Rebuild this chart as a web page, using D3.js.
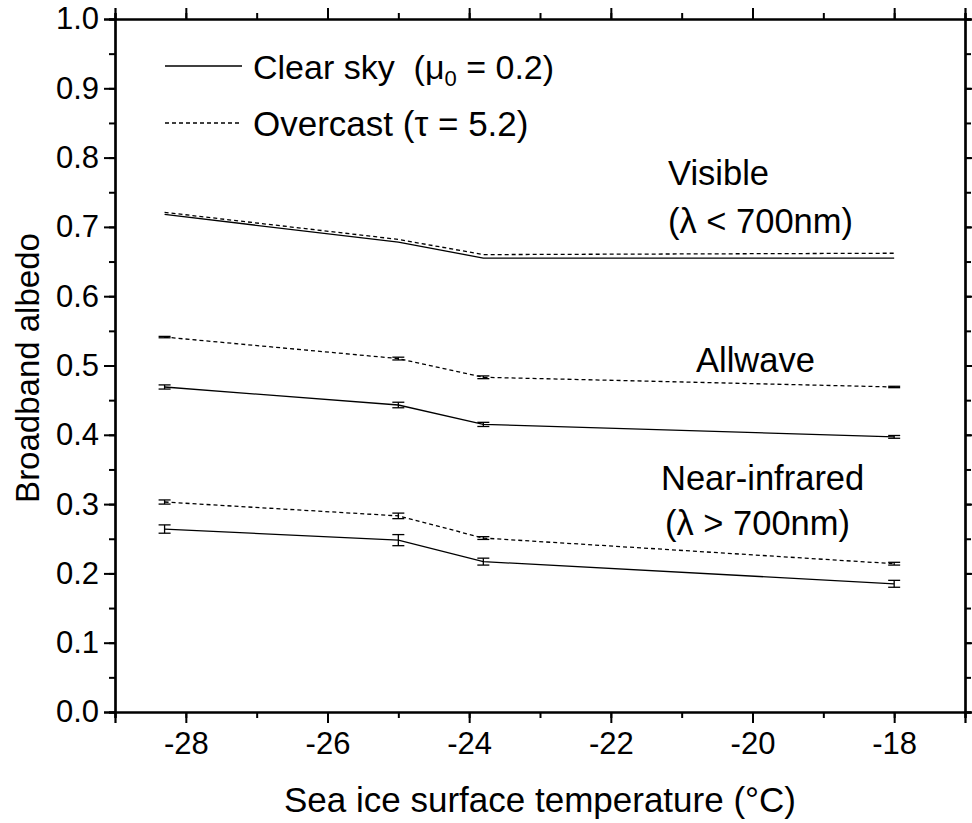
<!DOCTYPE html>
<html>
<head>
<meta charset="utf-8">
<script src="https://cdn.jsdelivr.net/npm/d3@7"></script>
<style>
body{margin:0;background:#fff;}
svg{font-family:"Liberation Sans",Arial,sans-serif;}
text{white-space:pre;}
</style>
</head>
<body>
<svg id="graph"></svg>
<script>
// temperatures (deg C)
var temps = [-28.3, -25, -23.8, -18];

// albedo values + error half-widths (0 = no visible bar)
var visClear = [0.718, 0.678, 0.655, 0.655];
var visClearErr = [0, 0, 0, 0];
var visOver = [0.721, 0.682, 0.660, 0.662];
var visOverErr = [0, 0, 0, 0];
var allClear = [0.469, 0.443, 0.415, 0.397];
var allClearErr = [0.003, 0.004, 0.003, 0.002];
var allOver = [0.541, 0.510, 0.483, 0.469];
var allOverErr = [0.001, 0.002, 0.002, 0.001];
var nirClear = [0.264, 0.248, 0.217, 0.185];
var nirClearErr = [0.006, 0.008, 0.005, 0.005];
var nirOver = [0.303, 0.283, 0.251, 0.214];
var nirOverErr = [0.003, 0.004, 0.002, 0.002];

var xTicks = [-28, -26, -24, -22, -20, -18];
var yTicks = [0, 0.1, 0.2, 0.3, 0.4, 0.5, 0.6, 0.7, 0.8, 0.9, 1.0];

var series = [
  {vals: visClear, err: visClearErr, dash: null},
  {vals: visOver, err: visOverErr, dash: "4,3"},
  {vals: allClear, err: allClearErr, dash: null},
  {vals: allOver, err: allOverErr, dash: "4,3"},
  {vals: nirClear, err: nirClearErr, dash: null},
  {vals: nirOver, err: nirOverErr, dash: "4,3"}
];

var screen = {width: 972, height: 823};
var svg = d3.select("#graph").attr("width", screen.width).attr("height", screen.height);

var xScale = d3.scaleLinear().domain([-29, -17]).range([115, 965]);
var yScale = d3.scaleLinear().domain([0, 1]).range([712, 19]);

var minorX = d3.range(-29, -16.5, 1);
var minorY = d3.range(0, 1.001, 0.05);

function styleAxis(g){
  g.select(".domain").attr("stroke", "#000").attr("stroke-width", 2.2);
  g.selectAll(".tick line").attr("stroke", "#000").attr("stroke-width", 2);
}

// minor ticks first
svg.append("g").attr("transform", "translate(0,712)")
  .call(d3.axisBottom(xScale).tickValues(minorX).tickSize(6).tickFormat(""))
  .call(styleAxis);
svg.append("g").attr("transform", "translate(0,19)")
  .call(d3.axisTop(xScale).tickValues(minorX).tickSize(6).tickFormat(""))
  .call(styleAxis);
svg.append("g").attr("transform", "translate(115,0)")
  .call(d3.axisLeft(yScale).tickValues(minorY).tickSize(6).tickFormat(""))
  .call(styleAxis);
svg.append("g").attr("transform", "translate(965,0)")
  .call(d3.axisRight(yScale).tickValues(minorY).tickSize(6).tickFormat(""))
  .call(styleAxis);

// major ticks
var xAxis = svg.append("g").attr("transform", "translate(0,712)")
  .call(d3.axisBottom(xScale).tickValues(xTicks).tickSize(11).tickPadding(9)
    .tickFormat(function(d){ return String(d); }))
  .call(styleAxis);
xAxis.selectAll("text").attr("font-size", 31).attr("fill", "#000")
  .attr("font-family", "Liberation Sans, Arial, sans-serif");
svg.append("g").attr("transform", "translate(0,19)")
  .call(d3.axisTop(xScale).tickValues(xTicks).tickSize(11).tickFormat(""))
  .call(styleAxis);
var yAxis = svg.append("g").attr("transform", "translate(115,0)")
  .call(d3.axisLeft(yScale).tickValues(yTicks).tickSize(11).tickPadding(5).tickFormat(d3.format(".1f")))
  .call(styleAxis);
yAxis.selectAll("text").attr("font-size", 31).attr("fill", "#000")
  .attr("font-family", "Liberation Sans, Arial, sans-serif");
svg.append("g").attr("transform", "translate(965,0)")
  .call(d3.axisRight(yScale).tickValues(yTicks).tickSize(11).tickFormat(""))
  .call(styleAxis);

// lines + error bars
var line = d3.line()
  .x(function(d, i){ return xScale(temps[i]); })
  .y(function(d){ return yScale(d); });

series.forEach(function(s){
  svg.append("path")
    .attr("d", line(s.vals))
    .attr("fill", "none")
    .attr("stroke", "#000")
    .attr("stroke-width", 1.3)
    .attr("stroke-dasharray", s.dash);
  var eb = svg.append("g").attr("stroke", "#000").attr("stroke-width", 1.3);
  s.vals.forEach(function(v, i){
    if (!s.err[i]) return;
    var x = xScale(temps[i]);
    var y1 = yScale(v - s.err[i]), y2 = yScale(v + s.err[i]);
    eb.append("line").attr("x1", x).attr("x2", x).attr("y1", y1).attr("y2", y2);
    eb.append("line").attr("x1", x - 6).attr("x2", x + 6).attr("y1", y1).attr("y2", y1);
    eb.append("line").attr("x1", x - 6).attr("x2", x + 6).attr("y1", y2).attr("y2", y2);
  });
});

// axis titles
svg.append("text")
  .attr("x", 540).attr("y", 812)
  .attr("text-anchor", "middle")
  .attr("font-size", 35)
  .text("Sea ice surface temperature (\u00B0C)");

svg.append("text")
  .attr("transform", "translate(39,368) rotate(-90)")
  .attr("text-anchor", "middle")
  .attr("font-size", 33)
  .text("Broadband albedo");

// legend
svg.append("line").attr("x1", 165).attr("x2", 242).attr("y1", 66).attr("y2", 66)
  .attr("stroke", "#000").attr("stroke-width", 1.3);
var lg1 = svg.append("text").attr("x", 253).attr("y", 79).attr("font-size", 34);
lg1.append("tspan").text("Clear sky  (\u03BC");
lg1.append("tspan").attr("font-size", 22).attr("dy", 7).text("0");
lg1.append("tspan").attr("dy", -7).text(" = 0.2)");

svg.append("line").attr("x1", 165).attr("x2", 242).attr("y1", 123).attr("y2", 123)
  .attr("stroke", "#000").attr("stroke-width", 1.3).attr("stroke-dasharray", "4,3");
svg.append("text").attr("x", 253).attr("y", 136).attr("font-size", 35)
  .text("Overcast (\u03C4 = 5.2)");

// annotations
var notes = [
  {x: 668, y: 185, t: "Visible"},
  {x: 668, y: 233, t: "(\u03BB < 700nm)"},
  {x: 696, y: 372, t: "Allwave"},
  {x: 661, y: 490, t: "Near-infrared"},
  {x: 665, y: 535, t: "(\u03BB > 700nm)"}
];
svg.selectAll(".note").data(notes).enter().append("text")
  .attr("class", "note")
  .attr("x", function(d){ return d.x; })
  .attr("y", function(d){ return d.y; })
  .attr("font-size", 34.5)
  .text(function(d){ return d.t; });
</script>
</body>
</html>
